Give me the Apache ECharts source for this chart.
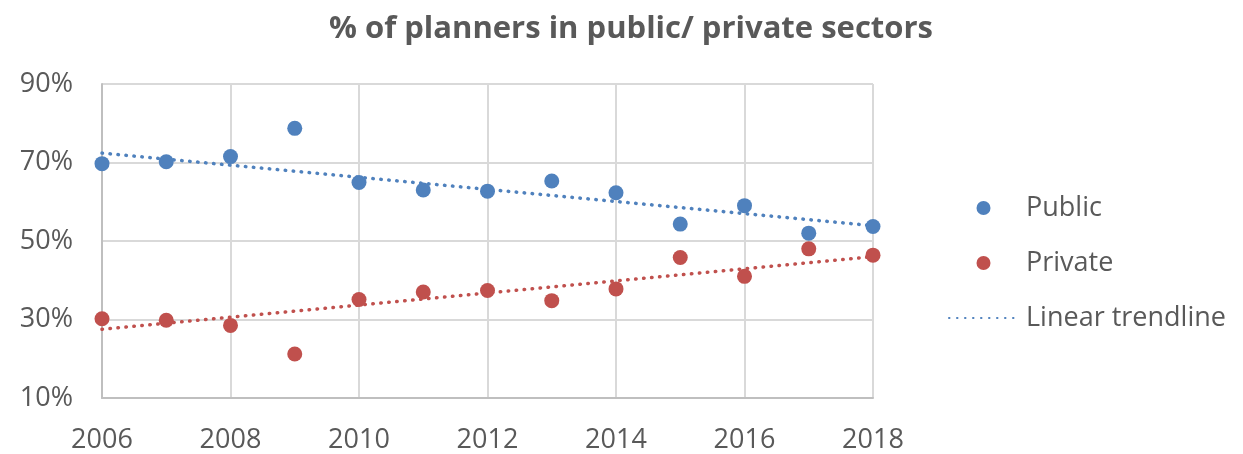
<!DOCTYPE html>
<html>
<head>
<meta charset="utf-8">
<script src="https://cdn.jsdelivr.net/npm/echarts@6/dist/echarts.min.js"></script>
<style>
  html, body { margin: 0; padding: 0; background: #fff; }
  #chart-container { width: 1243px; height: 454px; }
</style>
</head>
<body>
<div id="chart-container"></div>
<script>
var years = [2006, 2007, 2008, 2009, 2010, 2011, 2012, 2013, 2014, 2015, 2016, 2017, 2018];
var publicPct = [69.7, 70.2, 71.5, 78.7, 64.9, 63.0, 62.7, 65.3, 62.3, 54.3, 59.0, 52.0, 53.7];
var privatePct = [30.2, 29.8, 28.5, 21.2, 35.1, 37.0, 37.4, 34.8, 37.8, 45.8, 41.0, 48.0, 46.4];
// trendline end points
var trendYears = [2006, 2018];
var publicTrend = [72.4, 53.9];
var privateTrend = [27.5, 46.0];

var textGrey = '#595959';
var blue = '#4F81BD';
var red = '#C0504D';

function pairs(xs, ys) {
    return xs.map(function (x, i) { return [x, ys[i]]; });
}

var myChart = echarts.init(document.getElementById('chart-container'));

var dotted = { width: 3.5, type: [0.5, 7.5], cap: 'round' };

var option = {
    animation: false,
    title: {
        text: '% of planners in public/ private sectors',
        left: 329,
        top: 14,
        padding: 0,
        textStyle: {
            fontFamily: 'Open Sans',
            fontWeight: 'bold',
            fontSize: 31,
            color: textGrey
        }
    },
    legend: {
        orient: 'vertical',
        left: 948,
        top: 193,
        padding: 0,
        itemWidth: 69,
        itemHeight: 14,
        itemGap: 25,
        data: [
            'Public',
            'Private',
            { name: 'Linear trendline', itemStyle: { opacity: 0 } }
        ],
        textStyle: {
            fontFamily: 'Open Sans',
            fontSize: 27,
            color: textGrey,
            lineHeight: 30,
            padding: [0, 0, 0, 3]
        }
    },
    grid: {
        left: 102,
        right: 370,
        top: 84,
        bottom: 55
    },
    xAxis: {
        type: 'value',
        min: 2006,
        max: 2018,
        interval: 2,
        axisLine: { show: true, lineStyle: { color: '#bfbfbf', width: 2 } },
        axisTick: { show: false },
        splitLine: { show: true, lineStyle: { color: '#d9d9d9', width: 2 } },
        axisLabel: {
            margin: 29,
            fontFamily: 'Open Sans',
            fontSize: 27,
            color: textGrey,
            formatter: function (v) { return String(v); }
        }
    },
    yAxis: {
        type: 'value',
        min: 10,
        max: 90,
        interval: 20,
        axisLine: { show: true, lineStyle: { color: '#bfbfbf', width: 2 } },
        axisTick: { show: false },
        splitLine: { show: true, lineStyle: { color: '#d9d9d9', width: 2 } },
        axisLabel: {
            margin: 29,
            fontFamily: 'Open Sans',
            fontSize: 27,
            color: textGrey,
            formatter: '{value}%'
        }
    },
    series: [
        {
            name: 'Public',
            type: 'scatter',
            symbol: 'circle',
            symbolSize: 15,
            itemStyle: { color: blue, opacity: 1 },
            data: pairs(years, publicPct)
        },
        {
            name: 'Private',
            type: 'scatter',
            symbol: 'circle',
            symbolSize: 15,
            itemStyle: { color: red, opacity: 1 },
            data: pairs(years, privatePct)
        },
        {
            name: 'Linear trendline',
            type: 'line',
            symbol: 'none',
            z: 1,
            itemStyle: { color: blue },
            lineStyle: Object.assign({ color: blue }, dotted),
            data: pairs(trendYears, publicTrend)
        },
        {
            name: 'Linear trendline',
            type: 'line',
            symbol: 'none',
            z: 1,
            itemStyle: { color: red },
            lineStyle: Object.assign({ color: red }, dotted),
            data: pairs(trendYears, privateTrend)
        }
    ]
};

myChart.setOption(option);
</script>
</body>
</html>
